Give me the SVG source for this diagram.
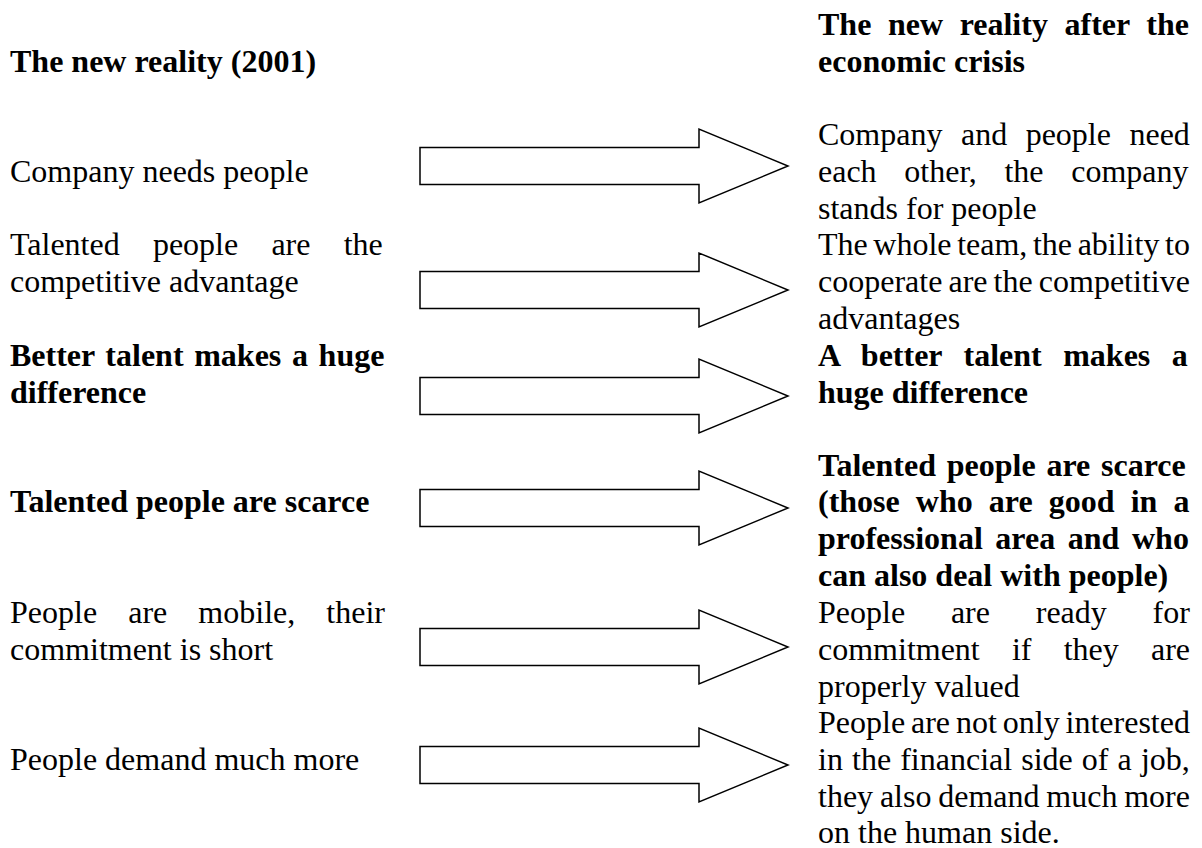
<svg xmlns="http://www.w3.org/2000/svg" xmlns:xlink="http://www.w3.org/1999/xlink" width="1202" height="848" viewBox="0 0 1202 848">
  <style>
    text { font-family: "Liberation Serif", "Times New Roman", serif; font-size: 32px; fill: #000; }
    .b { font-weight: bold; }
    .arrow { fill: #fff; stroke: #000; stroke-width: 1.5; stroke-linejoin: miter; }
  </style>
  <defs>
    <!-- block arrow, centred on y = 0 -->
    <polygon id="blockArrow" class="arrow" points="420,-18.5 699,-18.5 699,-37 788,0 699,37 699,18.5 420,18.5"/>
  </defs>
  <rect width="1202" height="848" fill="#fff"/>

  <!-- column headings -->
  <g id="head-left">
    <text class="b" x="10" y="72">The new reality (2001)</text>
  </g>
  <g id="head-right">
    <text class="b" x="818" y="35" word-spacing="8.6">The new reality after the</text>
    <text class="b" x="818" y="72">economic crisis</text>
  </g>

  <!-- row 1 -->
  <g id="left-1">
    <text x="10" y="182">Company needs people</text>
  </g>
  <g id="right-1">
    <text x="818" y="145" word-spacing="10.5">Company and people need</text>
    <text x="818" y="182" word-spacing="19.7">each other, the company</text>
    <text x="818" y="219">stands for people</text>
  </g>

  <!-- row 2 -->
  <g id="left-2">
    <text x="10" y="255" word-spacing="25.2">Talented people are the</text>
    <text x="10" y="292">competitive advantage</text>
  </g>
  <g id="right-2">
    <text x="818" y="255" word-spacing="-2.4">The whole team, the ability to</text>
    <text x="818" y="292" word-spacing="-1.9">cooperate are the competitive</text>
    <text x="818" y="329">advantages</text>
  </g>

  <!-- row 3 -->
  <g id="left-3">
    <text class="b" x="10" y="366" word-spacing="2.65">Better talent makes a huge</text>
    <text class="b" x="10" y="403">difference</text>
  </g>
  <g id="right-3">
    <text class="b" x="818" y="366" word-spacing="13.5">A better talent makes a</text>
    <text class="b" x="818" y="403">huge difference</text>
  </g>

  <!-- row 4 -->
  <g id="left-4">
    <text class="b" x="10" y="512">Talented people are scarce</text>
  </g>
  <g id="right-4">
    <text class="b" x="818" y="476" word-spacing="2.8">Talented people are scarce</text>
    <text class="b" x="818" y="512" word-spacing="8.1">(those who are good in a</text>
    <text class="b" x="818" y="549" word-spacing="4.6">professional area and who</text>
    <text class="b" x="818" y="586">can also deal with people)</text>
  </g>

  <!-- row 5 -->
  <g id="left-5">
    <text x="10" y="623" word-spacing="23.1">People are mobile, their</text>
    <text x="10" y="660">commitment is short</text>
  </g>
  <g id="right-5">
    <text x="818" y="623" word-spacing="37.8">People are ready for</text>
    <text x="818" y="660" word-spacing="24.2">commitment if they are</text>
    <text x="818" y="697">properly valued</text>
  </g>

  <!-- row 6 -->
  <g id="left-6">
    <text x="10" y="770">People demand much more</text>
  </g>
  <g id="right-6">
    <text x="818" y="733" word-spacing="-2.1">People are not only interested</text>
    <text x="818" y="770" word-spacing="1.1">in the financial side of a job,</text>
    <text x="818" y="807" word-spacing="-1.2">they also demand much more</text>
    <text x="818" y="843">on the human side.</text>
  </g>

  <!-- arrows linking each pair of statements -->
  <g id="connectors">
    <use xlink:href="#blockArrow" href="#blockArrow" y="166"/>
    <use xlink:href="#blockArrow" href="#blockArrow" y="290"/>
    <use xlink:href="#blockArrow" href="#blockArrow" y="396"/>
    <use xlink:href="#blockArrow" href="#blockArrow" y="508"/>
    <use xlink:href="#blockArrow" href="#blockArrow" y="647"/>
    <use xlink:href="#blockArrow" href="#blockArrow" y="765"/>
  </g>
</svg>
